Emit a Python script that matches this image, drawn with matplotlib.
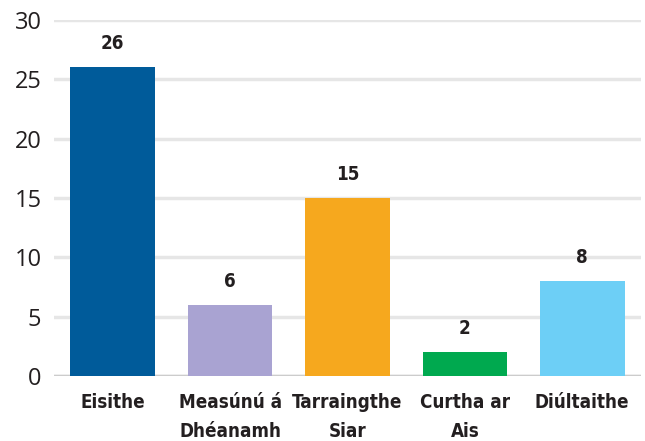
import matplotlib.pyplot as plt

# data
categories = ['Eisithe', 'Measúnú á\nDhéanamh', 'Tarraingthe\nSiar', 'Curtha ar\nAis', 'Diúltaithe']
values = [26, 6, 15, 2, 8]
colors = ['#005b9a', '#a9a3d2', '#f6a81e', '#00a94f', '#6dcff6']

fig = plt.figure(figsize=(6.45, 4.41), dpi=100)
ax = fig.add_axes([0.0837, 0.1474, 0.91, 0.8072])

x = range(len(categories))
bars = ax.bar(x, values, width=0.72, color=colors, zorder=3)

for rect, v in zip(bars, values):
    ax.annotate(str(v), (rect.get_x() + rect.get_width() / 2, v),
                xytext=(0, 17), textcoords='offset points',
                ha='center', va='center', fontsize=13.5, fontweight='bold',
                color='#231f20', family='DejaVu Sans', fontstretch='condensed')

ax.set_xlim(-0.5, 4.5)
ax.set_ylim(0, 30)
ax.set_yticks([0, 5, 10, 15, 20, 25, 30])
ax.yaxis.grid(True, color='#e6e6e6', linewidth=2.5, zorder=0)
ax.axhline(0, color='#cccccc', linewidth=2.5, zorder=2)

ax.set_xticks(list(x))
ax.set_xticklabels(categories, fontsize=13.5, fontweight='bold', color='#231f20',
                   family='DejaVu Sans', fontstretch='condensed', linespacing=1.7, va='top')
ax.tick_params(axis='x', length=0, pad=12)
ax.tick_params(axis='y', length=0, pad=9, labelsize=17, labelcolor='#231f20')
for lbl in ax.get_yticklabels():
    lbl.set_family('Open Sans')

for s in ax.spines.values():
    s.set_visible(False)

fig.savefig('out.png', dpi=100)
